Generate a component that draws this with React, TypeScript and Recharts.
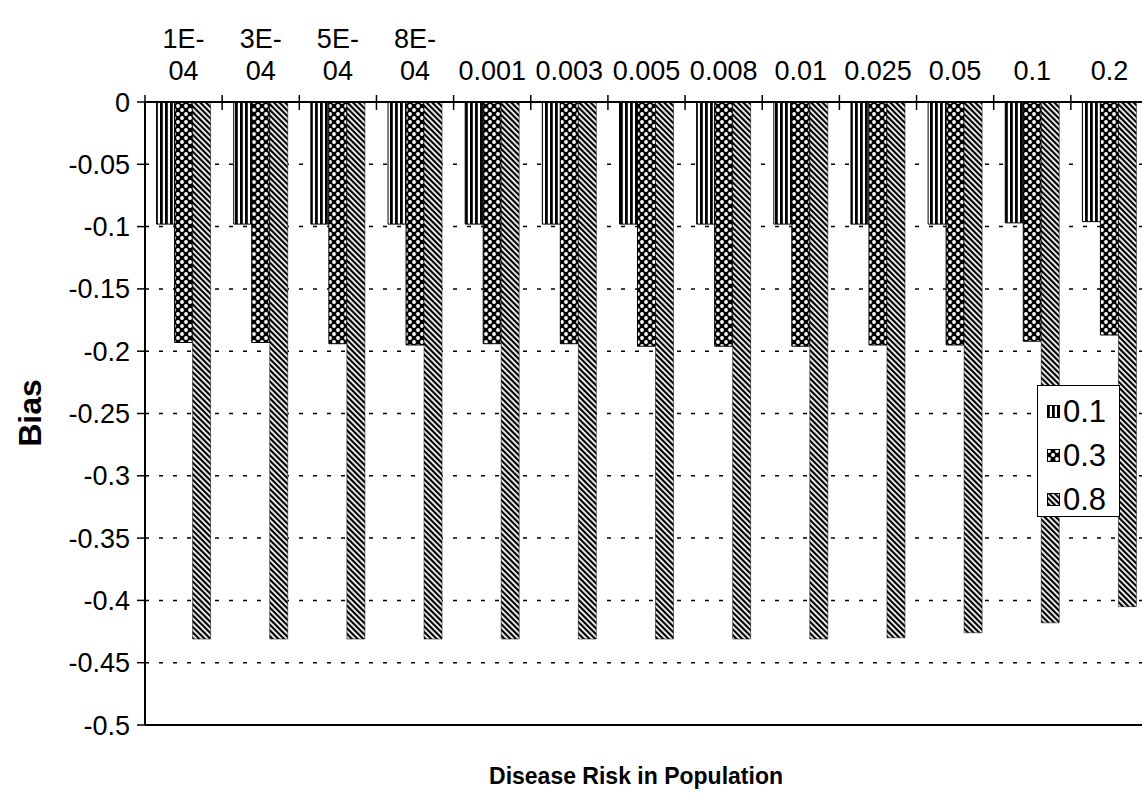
import React from 'react';
import { BarChart, Bar, XAxis, YAxis, CartesianGrid, ReferenceLine } from 'recharts';

const categories = ['1E-04', '3E-04', '5E-04', '8E-04', '0.001', '0.003', '0.005', '0.008', '0.01', '0.025', '0.05', '0.1', '0.2'];
const series01 = [-0.098, -0.098, -0.098, -0.098, -0.098, -0.098, -0.098, -0.098, -0.098, -0.098, -0.098, -0.097, -0.096];
const series03 = [-0.193, -0.193, -0.194, -0.195, -0.194, -0.194, -0.196, -0.196, -0.196, -0.195, -0.195, -0.192, -0.187];
const series08 = [-0.431, -0.431, -0.431, -0.431, -0.431, -0.431, -0.431, -0.431, -0.431, -0.430, -0.426, -0.418, -0.405];
const seriesNames = ['0.1', '0.3', '0.8'];
const yTicks = [0, -0.05, -0.1, -0.15, -0.2, -0.25, -0.3, -0.35, -0.4, -0.45, -0.5];

const data = categories.map((c, i) => ({ cat: c, s01: series01[i], s03: series03[i], s08: series08[i] }));

const FONT = '"Liberation Sans", Arial, sans-serif';
const TICK_FS = 27;
const CHART_W = 1160;
const PLOT_LEFT = 145;
const MARGIN_RIGHT = 12;
const BAND = (CHART_W - PLOT_LEFT - MARGIN_RIGHT) / categories.length;

const patternIds = ['pat01', 'pat03', 'pat08'];

function Patterns() {
  return (
    <svg width={0} height={0} style={{ position: 'absolute' }}>
      <defs>
        <pattern id="pat01" width={5} height={5} patternUnits="userSpaceOnUse">
          <rect x={0} y={0} width={5} height={5} fill="#fff" />
          <rect x={0} y={0} width={2.8} height={5} fill="#000" />
        </pattern>
        <pattern id="pat03" width={8} height={8} patternUnits="userSpaceOnUse">
          <rect x={0} y={0} width={8} height={8} fill="#000" />
          <circle cx={2} cy={2} r={1.9} fill="#fff" />
          <circle cx={6} cy={6} r={1.9} fill="#fff" />
        </pattern>
        <pattern id="pat08" width={4} height={4} patternUnits="userSpaceOnUse" patternTransform="rotate(-45)">
          <rect x={0} y={0} width={4} height={4} fill="#fff" />
          <rect x={0} y={0} width={2.2} height={4} fill="#000" />
        </pattern>
      </defs>
    </svg>
  );
}

function TopTick(props: any) {
  const { x, y, payload } = props;
  const label: string = payload.value;
  const idx = label.indexOf('E-');
  const lines = idx >= 0 ? [label.slice(0, idx + 2), label.slice(idx + 2)] : [label];
  const bx = x - BAND / 2;
  const txt = (t: string, dy: number) => (
    <text x={x} y={y - dy} textAnchor="middle" dominantBaseline="central" fontSize={TICK_FS} fontFamily={FONT} fill="#000">{t}</text>
  );
  return (
    <g>
      <line x1={bx} x2={bx} y1={y - 7} y2={y + 8} stroke="#000" strokeWidth={1.5} />
      {lines.length === 2 ? (
        <>
          {txt(lines[0], 63)}
          {txt(lines[1], 31)}
        </>
      ) : (
        txt(lines[0], 31)
      )}
    </g>
  );
}

function LegendBox() {
  return (
    <div style={{ position: 'absolute', left: 1037, top: 385, width: 83, height: 132, border: '1.5px solid #000', background: '#fff', boxSizing: 'border-box', paddingTop: 4, paddingLeft: 9, fontFamily: FONT }}>
      {seriesNames.map((n, i) => (
        <div key={n} style={{ display: 'flex', alignItems: 'center', height: 44 }}>
          <svg width={14} height={14} style={{ marginRight: 2 }}>
            <rect x={0.5} y={0.5} width={12} height={12} fill={`url(#${patternIds[i]})`} stroke="#000" strokeWidth={1} />
          </svg>
          <span style={{ fontSize: 31, color: '#000', lineHeight: '44px' }}>{n}</span>
        </div>
      ))}
    </div>
  );
}

export default function App() {
  return (
    <div style={{ position: 'absolute', left: 0, top: 0, width: 1142, height: 804, overflow: 'hidden', background: '#fff' }}>
      <Patterns />
      <BarChart width={CHART_W} height={804} data={data} margin={{ top: 0, right: MARGIN_RIGHT, bottom: 79, left: 0 }} barCategoryGap="15%" barGap={0}>
        <CartesianGrid horizontal vertical={false} stroke="#000" strokeDasharray="4 10" strokeWidth={1.5} />
        <XAxis dataKey="cat" orientation="top" height={102} axisLine={{ stroke: '#000', strokeWidth: 2 }} tickLine={false} tickSize={0} tickMargin={0} tick={<TopTick />} interval={0} />
        <YAxis width={PLOT_LEFT} domain={[-0.5, 0]} ticks={yTicks} type="number" allowDataOverflow axisLine={{ stroke: '#000', strokeWidth: 2 }} tickLine={{ stroke: '#000', strokeWidth: 1.5 }} tickSize={8} tickMargin={7} tick={{ fontSize: TICK_FS, fontFamily: FONT, fill: '#000' }} tickFormatter={(v: number) => String(Number(v.toFixed(2)))} />
        <ReferenceLine y={-0.5} stroke="#000" strokeWidth={2} />
        <Bar dataKey="s01" name={seriesNames[0]} fill="url(#pat01)" stroke="#000" strokeWidth={1} isAnimationActive={false} />
        <Bar dataKey="s03" name={seriesNames[1]} fill="url(#pat03)" stroke="#000" strokeWidth={1} isAnimationActive={false} />
        <Bar dataKey="s08" name={seriesNames[2]} fill="url(#pat08)" stroke="#000" strokeWidth={0.5} isAnimationActive={false} />
      </BarChart>
      <LegendBox />
      <div style={{ position: 'absolute', left: 0, width: 1272, top: 760, textAlign: 'center', fontFamily: FONT, fontWeight: 'bold', fontSize: 23, color: '#000', lineHeight: '32px' }}>
        Disease Risk in Population
      </div>
      <div style={{ position: 'absolute', left: 30, top: 413, transform: 'translate(-50%, -50%) rotate(-90deg)', fontFamily: FONT, fontWeight: 'bold', fontSize: 32, color: '#000', whiteSpace: 'nowrap' }}>
        Bias
      </div>
    </div>
  );
}
